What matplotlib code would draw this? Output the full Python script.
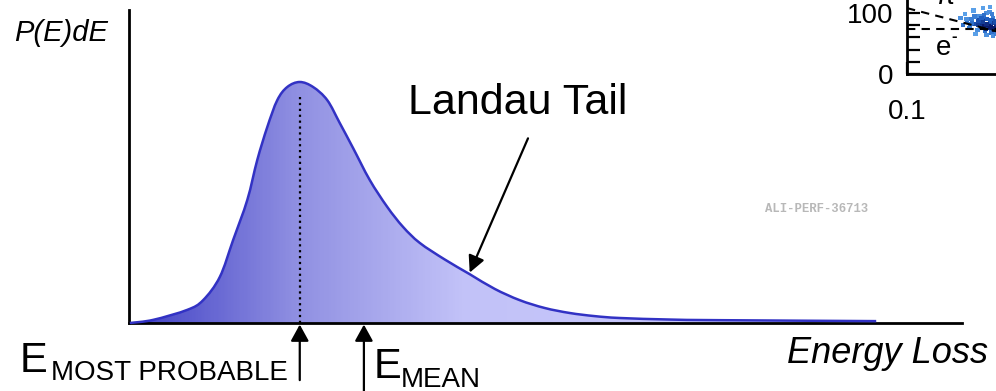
#!/usr/bin/env python3
"""Landau energy-loss distribution sketch with most-probable / mean markers."""
import matplotlib

matplotlib.use("Agg")
import matplotlib.pyplot as plt
import numpy as np
from matplotlib.colors import LinearSegmentedColormap
from matplotlib.patches import PathPatch
from matplotlib.path import Path

plt.rcParams["font.family"] = ["Liberation Sans", "DejaVu Sans"]

# energy loss (arb. units) and P(E)dE
energy_loss = [0.01, 0.29, 0.70, 0.89, 1.09, 1.25, 1.42, 1.54, 1.66, 1.78,
               1.90, 2.05, 2.21, 2.38, 2.53, 2.69, 2.89, 3.10, 3.29, 3.49,
               3.79, 4.09, 4.39, 4.69, 4.99, 5.29, 5.59, 5.89, 6.50, 7.10, 8.97]
prob = [0.000, 0.010, 0.042, 0.073, 0.147, 0.265, 0.393, 0.521, 0.626, 0.712,
        0.754, 0.770, 0.754, 0.712, 0.639, 0.559, 0.457, 0.371, 0.307, 0.256,
        0.203, 0.156, 0.109, 0.073, 0.048, 0.032, 0.022, 0.016, 0.011, 0.009, 0.006]
e_mean = 2.82
landau_tail_at = 4.09

# inset: dE/dx band (partially visible)
inset_x = [0.185, 0.19, 0.195, 0.20, 0.205, 0.21, 0.215, 0.22, 0.225, 0.23,
           0.235, 0.24, 0.245, 0.25, 0.255, 0.26, 0.265, 0.27, 0.275, 0.28,
           0.24, 0.26, 0.22, 0.25, 0.27, 0.232, 0.244, 0.256, 0.268, 0.28,
           0.262, 0.274, 0.25, 0.238, 0.228, 0.212, 0.218, 0.226, 0.242, 0.252,
           0.258, 0.264, 0.272, 0.278, 0.248, 0.236, 0.266, 0.276, 0.198, 0.208]
inset_y = [92, 80, 98, 86, 75, 90, 104, 82, 72, 95,
           78, 88, 70, 100, 76, 84, 68, 92, 74, 80,
           108, 110, 66, 64, 62, 84, 80, 78, 75, 72,
           77, 72, 82, 86, 88, 84, 94, 80, 96, 90,
           102, 88, 84, 66, 74, 92, 98, 86, 90, 82]
inset_density = [0.3, 0.5, 0.2, 0.5, 0.4, 0.4, 0.2, 0.7, 0.3, 0.3,
                 0.8, 0.6, 0.5, 0.3, 0.9, 0.7, 0.5, 0.4, 1.0, 0.9,
                 0.2, 0.2, 0.2, 0.3, 0.3, 0.9, 1.0, 1.0, 1.0, 1.0,
                 1.0, 1.0, 0.9, 0.8, 0.7, 0.5, 0.4, 0.8, 0.5, 0.6,
                 0.3, 0.6, 0.8, 0.4, 0.9, 0.6, 0.4, 0.7, 0.3, 0.5]

W, H = 996, 391


def fx(px):
    return px / W


def fy(py):
    return 1 - py / H


def smooth_path(xs, ys):
    # Catmull-Rom through the points, written as cubic Bezier segments
    pts = np.column_stack([xs, ys])
    verts = [pts[0]]
    codes = [Path.MOVETO]
    n = len(pts)
    for i in range(n - 1):
        p0 = pts[max(i - 1, 0)]
        p1, p2 = pts[i], pts[i + 1]
        p3 = pts[min(i + 2, n - 1)]
        c1 = p1 + (p2 - p0) / 6.0
        c2 = p2 - (p3 - p1) / 6.0
        verts += [c1, c2, p2]
        codes += [Path.CURVE4] * 3
    return np.array(verts), codes


fig = plt.figure(figsize=(W / 100, H / 100), dpi=100)

ax = fig.add_axes([fx(129), fy(323), (962 - 129) / W, (323 - 10) / H])
ax.set_xlim(0, 10)
ax.set_ylim(0, 1)
ax.set_xticks([])
ax.set_yticks([])
for side in ("top", "right"):
    ax.spines[side].set_visible(False)
for side in ("left", "bottom"):
    ax.spines[side].set_linewidth(2.0)
    ax.spines[side].set_color("black")

verts, codes = smooth_path(energy_loss, prob)
curve = Path(verts, codes)
closed = Path(np.vstack([verts, [[energy_loss[-1], 0], [energy_loss[0], 0], verts[0]]]),
              codes + [Path.LINETO, Path.LINETO, Path.CLOSEPOLY])
clip_patch = PathPatch(closed, facecolor="none", edgecolor="none")
ax.add_patch(clip_patch)

grad_cmap = LinearSegmentedColormap.from_list(
    "landau_fill",
    [(0.0, "#4040c4"), (0.2, "#9090e2"), (0.4, "#c2c2f8"), (1.0, "#cdcdff")])
grad = np.linspace(0, 1, 400).reshape(1, -1)
img = ax.imshow(grad, extent=[0, 10, 0, 1], aspect="auto", cmap=grad_cmap,
                origin="lower", zorder=1)
img.set_clip_path(clip_patch)

ax.add_patch(PathPatch(curve, facecolor="none", edgecolor="#3232c4",
                       lw=1.8, zorder=3, clip_on=False))

# most probable value: peak of the curve
i_peak = int(np.argmax(prob))
e_mp = energy_loss[i_peak]
ax.plot([e_mp, e_mp], [0, prob[i_peak] * 0.94], color="black", ls=":", lw=1.6, zorder=4)

arrow = dict(arrowstyle="-|>,head_length=1.0,head_width=0.55", color="black",
             lw=1.6, shrinkA=0, shrinkB=0)
ax.annotate("", xy=(e_mp, -0.005), xytext=(0, -40), textcoords="offset points",
            arrowprops=arrow, annotation_clip=False)
ax.annotate("", xy=(e_mean, -0.005), xytext=(0, -50), textcoords="offset points",
            arrowprops=arrow, annotation_clip=False)

i_tail = energy_loss.index(landau_tail_at)
ax.annotate("", xy=(landau_tail_at, prob[i_tail] + 0.005), xytext=(4.79, 0.59),
            arrowprops=dict(arrowstyle="-|>,head_length=1.0,head_width=0.5",
                            color="black", lw=1.6, shrinkA=0, shrinkB=0),
            annotation_clip=False)

# labels
fig.text(fx(14), fy(41), "P(E)dE", fontsize=21, style="italic", va="baseline")
fig.text(fx(408), fy(114), "Landau Tail", fontsize=31, va="baseline")
fig.text(fx(787), fy(363), "Energy Loss", fontsize=26, style="italic", va="baseline")
fig.text(fx(20), fy(372), "E", fontsize=30, va="baseline")
fig.text(fx(51), fy(380), "MOST PROBABLE", fontsize=20, va="baseline")
fig.text(fx(374), fy(378), "E", fontsize=30, va="baseline")
fig.text(fx(401), fy(387), "MEAN", fontsize=20, va="baseline")
fig.text(fx(765), fy(212), "ALI-PERF-36713", fontsize=8.8, color="#b8b8b8",
         family=["Liberation Mono", "DejaVu Sans Mono"], weight="bold", va="baseline")

# inset, mostly outside the canvas
ins = fig.add_axes([fx(907), fy(74), 400 / W, 200 / H])
ins.set_xscale("log")
ins.set_xlim(0.1, 10)
ins.set_ylim(0, 200 / 0.61)
ins.patch.set_alpha(0)
for side in ("top", "right"):
    ins.spines[side].set_visible(False)
for side in ("left", "bottom"):
    ins.spines[side].set_linewidth(2.0)
ins.set_yticks([0, 100])
ins.set_yticks([20, 40, 60, 80], minor=True)
ins.set_xticks([0.1])
ins.set_xticklabels(["0.1"])
ins.xaxis.set_minor_locator(matplotlib.ticker.NullLocator())
ins.tick_params(axis="both", which="both", direction="in", width=1.6, labelsize=20)
ins.tick_params(axis="y", which="both", length=9, pad=10)
ins.tick_params(axis="x", which="both", length=9, pad=18)
band_cmap = LinearSegmentedColormap.from_list("band", ["#5aa0e8", "#1f5fc0", "#0a1a6a"])
ins.scatter(inset_x, inset_y, c=inset_density, cmap=band_cmap, vmin=0.2, vmax=1.0,
            s=10, marker="s", linewidths=0, zorder=2)
ins.plot([0.1, 0.29], [74, 74], color="black", ls=(0, (4, 3)), lw=1.5, zorder=3)
ins.plot([0.1, 0.28], [108, 70], color="black", ls=(0, (4, 3)), lw=1.5, zorder=3)
fig.text(fx(936), fy(55), "e", fontsize=20, va="baseline")
fig.text(fx(951), fy(41), "-", fontsize=12, weight="bold", va="baseline")
fig.text(fx(936), fy(4), "π", fontsize=20, va="baseline")

fig.savefig("out.png", dpi=100)
